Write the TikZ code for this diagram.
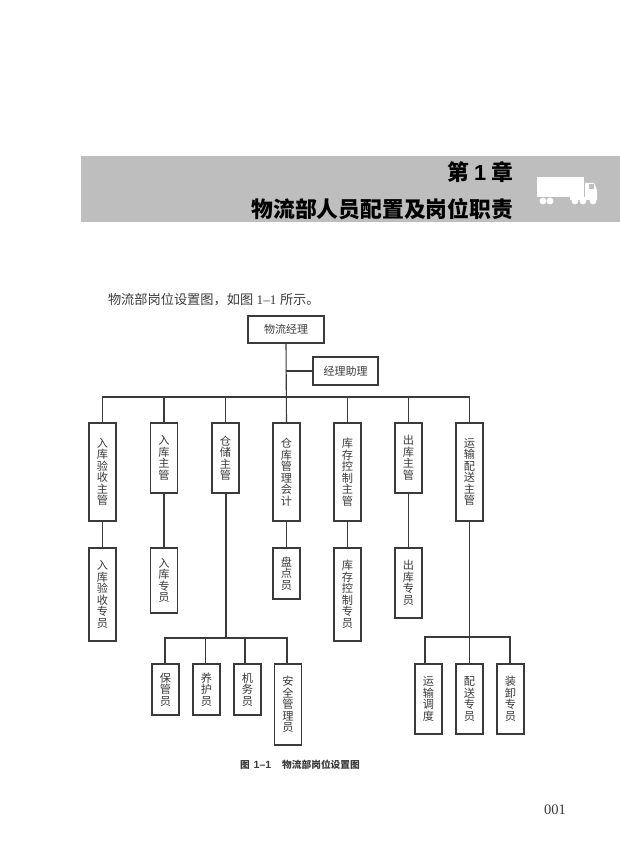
\documentclass[tikz,border=0pt]{standalone}
\usepackage{fontspec}
\setmainfont{Liberation Serif}
\newfontfamily\cjk{Noto Sans CJK SC}
\newfontfamily\latinsans{Liberation Sans}
\definecolor{ink}{HTML}{3A3A3A}
\definecolor{band}{HTML}{BEBEBE}
\tikzset{
  orgbox/.style={draw=ink,line width=1.1pt,inner sep=0pt,outer sep=0pt,text=ink,align=center,minimum width=27pt,
    font=\cjk\fontsize{11.2}{11.5}\selectfont},
  hbox/.style={orgbox,font=\cjk\fontsize{11}{13}\selectfont},
  link/.style={draw=ink,line width=1.1pt},
  plain/.style={inner sep=0pt,outer sep=0pt,text=ink},
  title/.style={inner sep=0pt,outer sep=0pt,anchor=east,text=black,font=\cjk\bfseries\fontsize{21.8}{24}\selectfont}
}
\begin{document}
\begin{tikzpicture}[x=1pt,y=-1pt]
\useasboundingbox (0,0) rectangle (620,866);
% banner
\fill[band] (81,156) rectangle (620,222.5);
\node[title] (t1) at (513,172) {第\hspace{5pt}{\latinsans\bfseries 1}\hspace{5pt}章};
\node[title] (t2) at (513,209) {物流部人员配置及岗位职责};
% truck
\fill[white] (537,177) rectangle (584,197);
\fill[white] (570,197) rectangle (597,200);
\fill[white] (585,183) -- (594,183) -- (597,190) -- (597,200) -- (585,200) -- cycle;
\fill[band] (589,184.5) rectangle (594,189);
\foreach \wx in {543,550,575,583,593} \fill[white] (\wx,201) circle (3.4);
% text
\node[plain,anchor=west,font=\fontsize{13.2}{15}\selectfont] (intro) at (108,300) {{\cjk 物流部岗位设置图，如图}\hspace{3.5pt}1–1\hspace{3.5pt}{\cjk 所示。}};
\node[plain,anchor=west,font=\cjk\bfseries\fontsize{9.7}{11}\selectfont] (cap) at (240,765) {图\hspace{4pt}{\latinsans\bfseries\fontsize{10.5}{11}\selectfont 1–1}\hspace{11pt}物流部岗位设置图};
\node[plain,anchor=center,font=\fontsize{14.5}{16}\selectfont] (pg) at (555,810) {001};
% top
\node[hbox,minimum width=76pt,minimum height=27pt] (m) at (286,329.5) {物流经理};
\node[hbox,minimum width=65pt,minimum height=28pt] (a) at (345.5,371) {经理助理};
% row 1
\node[orgbox,minimum height=98pt] (b1) at (102.5,472) {入\\库\\验\\收\\主\\管};
\node[orgbox,minimum height=70pt] (b2) at (164,458) {入\\库\\主\\管};
\node[orgbox,minimum height=70pt] (b3) at (225.5,458) {仓\\储\\主\\管};
\node[orgbox,minimum height=98pt] (b4) at (286.5,472) {仓\\库\\管\\理\\会\\计};
\node[orgbox,minimum height=98pt] (b5) at (347.5,472) {库\\存\\控\\制\\主\\管};
\node[orgbox,minimum height=70pt] (b6) at (408.5,458) {出\\库\\主\\管};
\node[orgbox,minimum height=98pt] (b7) at (469.5,472) {运\\输\\配\\送\\主\\管};
% row 2
\node[orgbox,minimum height=93pt] (c1) at (102.5,594.5) {入\\库\\验\\收\\专\\员};
\node[orgbox,minimum height=65pt] (c2) at (164,580.5) {入\\库\\专\\员};
\node[orgbox,minimum height=51pt] (c4) at (286.5,573.5) {盘\\点\\员};
\node[orgbox,minimum height=93pt] (c5) at (347.5,594.5) {库\\存\\控\\制\\专\\员};
\node[orgbox,minimum height=70pt] (c6) at (408.5,583) {出\\库\\专\\员};
% row 3, storage
\node[orgbox,minimum height=51pt] (d1) at (165.5,689.5) {保\\管\\员};
\node[orgbox,minimum height=51pt] (d2) at (206.5,689.5) {养\\护\\员};
\node[orgbox,minimum height=51pt] (d3) at (247.5,689.5) {机\\务\\员};
\node[orgbox,minimum height=81pt] (d4) at (288,704.5) {安\\全\\管\\理\\员};
% row 3, transport
\node[orgbox,minimum height=70pt] (e1) at (428.5,699) {运\\输\\调\\度};
\node[orgbox,minimum height=70pt] (e2) at (469.5,699) {配\\送\\专\\员};
\node[orgbox,minimum height=70pt] (e3) at (510.5,699) {装\\卸\\专\\员};
% junctions
\coordinate (bus) at (286,397);
\coordinate (busd) at (226,638);
\coordinate (buse) at (469.5,637);
\coordinate (sd1) at ([xshift=-0.5pt]d1.north);
\coordinate (sd2) at ([xshift=-1pt]d2.north);
\coordinate (sd3) at ([xshift=-2.5pt]d3.north);
\coordinate (sd4) at ([xshift=-1pt]d4.north);
\coordinate (se1) at ([xshift=-3.5pt]e1.north);
\coordinate (se3) at ([xshift=-0.5pt]e3.north);
% connectors
\draw[link] (m.south) -- (b4.north);
\draw[link] (a.west) -- (a.west -| m.south);
\draw[link] (b1.north) |- (bus) -| (b7.north);
\foreach \n in {b2,b3,b5,b6} \draw[link] (\n.north) -- (\n.north |- bus);
\foreach \u/\l in {b1/c1,b2/c2,b4/c4,b5/c5,b6/c6} \draw[link] (\u.south) -- (\l.north);
\draw[link] (busd |- b3.south) -- (busd);
\draw[link] (sd1) |- (busd) -| (sd4);
\foreach \n in {sd2,sd3} \draw[link] (\n) -- (\n |- busd);
\draw[link] (b7.south) -- (e2.north);
\draw[link] (se1) |- (buse) -| (se3);
\end{tikzpicture}
\end{document}
